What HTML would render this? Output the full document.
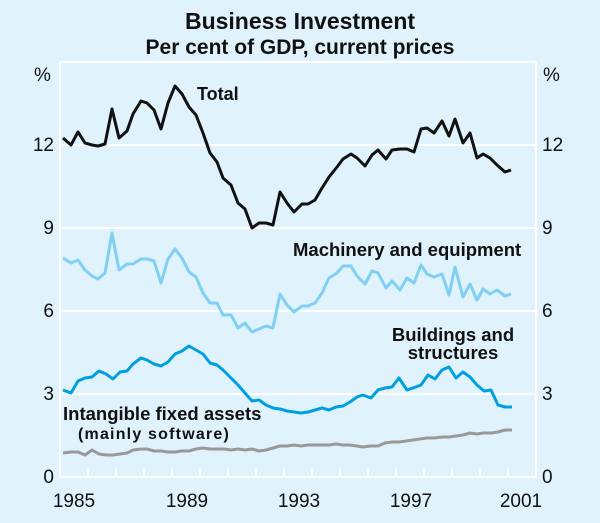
<!DOCTYPE html>
<html><head><meta charset="utf-8"><style>
html,body{margin:0;padding:0;background:#e0f2fc;}
svg{display:block;font-family:"Liberation Sans",Arial,sans-serif;}
</style></head><body>
<svg width="600" height="523" viewBox="0 0 600 523" xmlns="http://www.w3.org/2000/svg">
<rect width="600" height="523" fill="#e0f2fc"/>
<text x="300" y="29" text-anchor="middle" font-size="23" font-weight="bold" fill="#111">Business Investment</text>
<text x="300" y="54" text-anchor="middle" font-size="21" font-weight="bold" fill="#111">Per cent of GDP, current prices</text>
<g stroke="#fff" stroke-width="2">
<line x1="60" y1="62" x2="536" y2="62"/>
<line x1="60" y1="145" x2="536" y2="145"/>
<line x1="60" y1="228" x2="536" y2="228"/>
<line x1="60" y1="311" x2="536" y2="311"/>
<line x1="60" y1="394" x2="536" y2="394"/>
<line x1="60" y1="477" x2="536" y2="477"/>
<line x1="60" y1="62" x2="60" y2="477"/>
<line x1="536" y1="62" x2="536" y2="477"/>
<path d="M88 469V477M116 469V477M144 469V477M172 469V477M200 469V477M228 469V477M256 469V477M284 469V477M312 469V477M340 469V477M368 469V477M396 469V477M424 469V477M452 469V477M480 469V477M508 469V477"/>
</g>
<g font-size="19" fill="#111">
<text x="34" y="81">%</text><text x="543" y="81">%</text>
<g text-anchor="end"><text x="54" y="151">12</text><text x="54" y="234">9</text><text x="54" y="317">6</text><text x="54" y="400">3</text><text x="54" y="483">0</text></g>
<text x="542" y="151">12</text><text x="542" y="234">9</text><text x="542" y="317">6</text><text x="542" y="400">3</text><text x="542" y="483">0</text>
<g text-anchor="middle"><text x="74" y="507">1985</text><text x="187" y="507">1989</text><text x="299" y="507">1993</text><text x="411" y="507">1997</text><text x="521" y="507">2001</text></g>
<text x="197" y="100" font-size="18" font-weight="bold">Total</text>
<text x="293" y="256" font-size="18.5" font-weight="bold">Machinery and equipment</text>
<text x="453" y="341" font-size="18.5" font-weight="bold" text-anchor="middle">Buildings and</text>
<text x="453" y="359" font-size="18.5" font-weight="bold" text-anchor="middle">structures</text>
<text x="63" y="420" font-size="18.5" font-weight="bold">Intangible fixed assets</text>
<text x="154" y="439" font-size="16" font-weight="bold" letter-spacing="1.2" text-anchor="middle">(mainly software)</text>
</g>
<g fill="none" stroke-width="3" stroke-linejoin="round">
<polyline stroke="#999" points="63,453 71,452 78,452 85,455 92,450 99,454 106,455 113,455 120,454 127,453 133,450 141,449 147,449 154,451 161,451 168,452 175,452 182,451 189,451 196,449 203,448 210,449 217,449 224,449 231,450 238,449 245,450 252,449 259,451 266,450 273,448 280,446 287,446 294,445 301,446 308,445 315,445 322,445 329,445 336,444 343,445 350,445 357,446 363,447 371,446 378,446 385,443 392,442 399,442 406,441 413,440 420,439 427,438 434,438 442,437 449,437 456,436 463,435 470,433 477,434 483,433 491,433 498,432 505,430 512,430"/>
<polyline stroke="#00a0e0" points="63,390 71,393 78,381 85,378 92,377 99,371 106,374 113,379 120,372 127,371 133,364 141,358 147,360 154,364 161,366 168,362 175,354 182,351 189,346 196,350 203,354 210,363 217,365 223,370 231,378 238,385 245,393 252,401 259,400 266,405 273,408 280,409 287,411 294,412 301,413 308,412 315,410 322,408 329,410 336,407 343,406 350,402 357,397 363,395 371,398 378,390 385,388 392,387 399,378 407,390 413,388 421,385 428,375 435,379 442,370 449,367 456,378 463,372 470,377 477,385 484,391 491,390 498,405 505,407 512,407"/>
<polyline stroke="#80d0f4" points="63,258 71,263 78,260 85,270 92,276 98,279 105,273 112,233 119,270 127,264 133,264 141,259 147,259 154,261 161,283 168,259 175,249 182,258 189,272 196,277 203,293 210,303 217,303 223,315 231,315 238,328 245,323 252,332 259,329 266,326 273,328 280,294 287,305 294,312 302,306 308,306 315,303 322,293 329,278 337,273 343,266 351,266 357,276 365,284 372,271 378,273 386,288 392,281 400,290 407,278 414,283 421,265 427,274 434,277 442,274 449,295 455,267 463,297 470,284 477,300 483,289 490,294 497,290 505,296 511,294"/>
<polyline stroke="#111" points="63,138 71,145 78,132 85,143 92,145 98,146 105,144 112,109 119,138 127,131 133,114 141,101 147,103 154,110 161,129 168,103 175,86 182,94 189,107 196,115 203,133 210,153 217,162 223,178 231,185 238,203 245,209 252,228 259,223 266,223 273,225 280,192 287,203 294,212 302,204 308,204 315,200 322,188 329,177 337,167 343,159 351,154 357,158 365,166 372,155 378,150 386,159 392,150 400,149 407,149 414,152 421,129 427,128 434,133 442,121 449,136 455,119 463,143 470,133 477,158 483,154 490,158 497,165 505,172 511,170"/>
</g>
</svg>
</body></html>
